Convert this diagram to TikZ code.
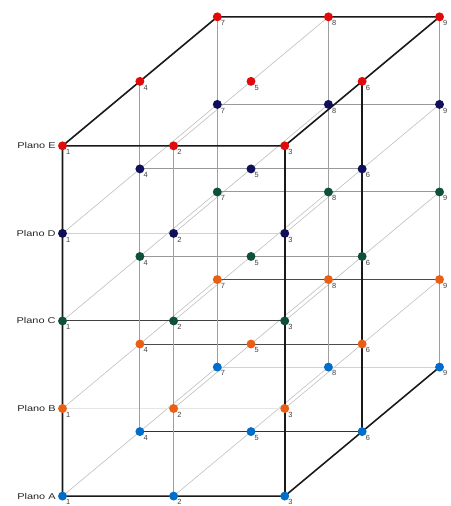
\documentclass[tikz,border=0pt]{standalone}
\usepackage{fontspec}
\setmainfont{Liberation Sans}
\usetikzlibrary{positioning}

\definecolor{planoA}{RGB}{0,110,200}
\definecolor{planoB}{RGB}{235,95,20}
\definecolor{planoC}{RGB}{15,80,60}
\definecolor{planoD}{RGB}{15,15,90}
\definecolor{planoE}{RGB}{225,10,10}

\begin{document}
\begin{tikzpicture}[x=1pt, y=1pt,
	dot/.style={circle, fill=#1, inner sep=0pt, minimum width=9pt, minimum height=8pt},
	num/.style={font=\fontsize{7.5}{8}\selectfont, text=black!75, inner sep=0.5pt, label distance=-0.5pt},
	plano/.style={font=\fontsize{8.5}{9}\selectfont, text=black!85, anchor=east, inner sep=1pt},
	frame/.style={black!90, line width=1.6pt},
	fila/.style={gray!80, line width=1pt},
	filaclara/.style={gray!35, line width=1pt},
	diag/.style={gray!50, line width=0.6pt},
	vert/.style={gray!75, line width=1.2pt}]
	\useasboundingbox (0,-4) rectangle (454,506);
	% puntos de cada plano: filas 1-3, 4-6, 7-9
	\foreach \p/\lev in {A/6, B/94.25, C/182.5, D/270.75, E/359} {
		\foreach \r in {0,1,2} {
			\foreach \c in {0,1,2} {
				\pgfmathtruncatemacro\k{3*\r+\c+1}
				\coordinate (\p\k) at ({63+112*\c+78*\r},{\lev+65*\r});
			}
		}
	}
	% diagonales en profundidad
	\foreach \p in {A,B,C,D,E} {
		\draw[diag] (\p1) -- (\p4) -- (\p7);
		\draw[diag] (\p2) -- (\p5) -- (\p8);
		\draw[diag] (\p3) -- (\p6) -- (\p9);
	}
	% filas horizontales
	\draw[filaclara] (D1) -- (D2) -- (D3);
	\draw[fila] (D4) -- (D5) -- (D6);
	\draw[fila] (D7) -- (D8) -- (D9);
	\draw[fila, black!75] (C1) -- (C2) -- (C3);
	\draw[fila] (C4) -- (C5) -- (C6);
	\draw[fila] (C7) -- (C8) -- (C9);
	\draw[filaclara, gray!20] (B1) -- (B2) -- (B3);
	\draw[fila, black!70] (B4) -- (B5) -- (B6);
	\draw[fila, black!70] (B7) -- (B8) -- (B9);
	\draw[fila, black!80] (A4) -- (A5) -- (A6);
	\draw[filaclara] (A7) -- (A8) -- (A9);
	% verticales
	\foreach \k in {2,4,7,8,9} {
		\draw[vert] (E\k) -- (A\k);
	}
	% aristas del prisma
	\draw[frame] (A1) -- (E1) -- (E4) -- (E7) -- (E8) -- (E9) -- (E6) -- (E3) -- (E2) -- (E1);
	\draw[frame] (E3) -- (A3);
	\draw[frame] (E6) -- (A6);
	\draw[frame] (A1) -- (A2) -- (A3) -- (A6) -- (A9);
	% puntos y etiquetas
	\foreach \p in {A,B,C,D,E} {
		\foreach \k in {1,...,9} {
			\node[dot=plano\p, label={[num]-45:\k}] (n\p\k) at (\p\k) {};
		}
		\node[plano, left=1pt of n\p1] (l\p) {\scalebox{1.3}[1]{Plano \p}};
	}
\end{tikzpicture}
\end{document}
